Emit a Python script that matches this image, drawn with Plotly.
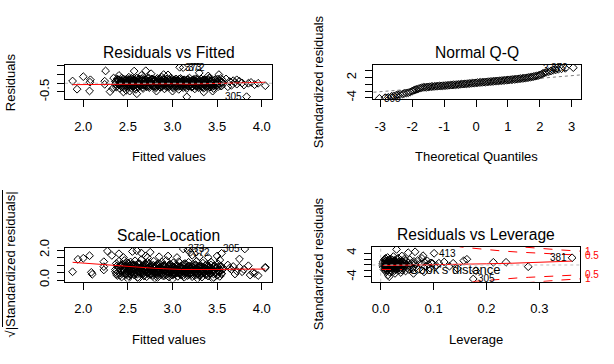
import plotly.graph_objects as go

W, H = 614, 364

# ---------------- Panel 1: Residuals vs Fitted ----------------
rf_fitted_sparse = [1.88, 1.93, 2.00, 2.07, 2.075, 2.08, 2.25, 2.24, 2.24, 2.30, 2.33, 2.34,
                    2.57, 2.70, 2.76, 2.60, 2.52, 2.45, 2.90, 3.00, 3.16, 3.08, 3.12, 3.30,
                    3.52, 3.45, 3.64, 3.68, 3.70, 3.72, 3.75, 3.78, 3.80, 3.72, 3.66, 3.85,
                    3.88, 3.92, 3.83, 4.04, 3.96, 3.60, 3.62, 2.40, 2.48, 2.65, 2.82, 2.95,
                    3.35, 3.40]
rf_resid_sparse = [0.13, -0.34, 0.38, -0.44, 0.06, 0.20, 0.71, 0.12, -0.06, -0.48, -0.30, 0.30,
                   0.70, 0.72, 0.55, -0.60, -0.45, -0.50, 0.50, -0.45, -0.78, 0.92, 0.90, 0.60,
                   0.50, -0.45, 0.10, 0.15, 0.05, -0.05, 0.12, 0.02, -0.10, 0.20, -0.12, 0.00,
                   0.05, -0.08, -0.77, -0.14, 0.00, 0.25, -0.20, 0.45, -0.40, 0.45, -0.45, 0.48,
                   -0.50, 0.42]
cloud_fitted = [2.36, 2.37, 2.38, 2.39, 2.40, 2.41, 2.42, 2.43, 2.44, 2.45,
                2.46, 2.47, 2.48, 2.49, 2.50, 2.51, 2.52, 2.53, 2.54, 2.55,
                2.56, 2.57, 2.58, 2.59, 2.60, 2.61, 2.62, 2.63, 2.64, 2.65,
                2.66, 2.67, 2.68, 2.69, 2.70, 2.71, 2.72, 2.73, 2.74, 2.75,
                2.76, 2.77, 2.78, 2.79, 2.80, 2.81, 2.82, 2.83, 2.84, 2.85,
                2.86, 2.87, 2.88, 2.89, 2.90, 2.91, 2.92, 2.93, 2.94, 2.95,
                2.96, 2.97, 2.98, 2.99, 3.00, 3.01, 3.02, 3.03, 3.04, 3.05,
                3.06, 3.07, 3.08, 3.09, 3.10, 3.11, 3.12, 3.13, 3.14, 3.15,
                3.16, 3.17, 3.18, 3.19, 3.20, 3.21, 3.22, 3.23, 3.24, 3.25,
                3.26, 3.27, 3.28, 3.29, 3.30, 3.31, 3.32, 3.33, 3.34, 3.35,
                3.36, 3.37, 3.38, 3.39, 3.40, 3.41, 3.42, 3.43, 3.44, 3.45,
                3.46, 3.47, 3.48, 3.49, 3.50, 3.51, 3.52, 3.53, 3.54, 3.55, 3.56]
cloud_resid = [0.10, -0.22, 0.25, -0.05, 0.18, -0.30, 0.05, 0.30, -0.12, 0.15,
               -0.25, 0.02, 0.22, -0.18, 0.10, 0.35, -0.08, 0.18, -0.28, 0.05,
               0.25, -0.15, 0.12, -0.35, 0.30, 0.00, -0.20, 0.20, 0.08, -0.10,
               0.28, -0.30, 0.15, -0.05, 0.22, -0.18, 0.05, 0.32, -0.25, 0.12,
               -0.02, 0.25, -0.15, 0.08, 0.18, -0.28, 0.02, 0.28, -0.10, 0.15,
               -0.22, 0.05, 0.35, -0.05, 0.20, -0.32, 0.10, -0.15, 0.25, 0.00,
               -0.20, 0.15, 0.30, -0.10, 0.08, -0.28, 0.18, -0.02, 0.25, -0.18,
               0.05, -0.35, 0.12, 0.28, -0.12, 0.02, -0.25, 0.20, -0.05, 0.15,
               -0.30, 0.08, -0.15, 0.30, -0.08, 0.12, -0.22, 0.02, 0.22, -0.32,
               0.05, -0.12, 0.18, -0.25, 0.10, -0.02, 0.25, -0.18, 0.05, -0.28,
               0.15, -0.08, 0.20, -0.15, 0.02, 0.30, -0.22, 0.10, -0.05, 0.18,
               -0.30, 0.05, 0.22, -0.12, 0.08, -0.20, 0.15, -0.02, 0.28, -0.15, 0.05]
cloud3_resid = [-0.05, 0.12, -0.15, 0.20, 0.02, -0.10, 0.15, -0.20, 0.08, 0.25,
                -0.02, 0.18, -0.12, 0.05, 0.22, -0.08, 0.10, -0.18, 0.28, 0.00,
                -0.14, 0.16, 0.04, -0.22, 0.12, 0.20, -0.06, 0.08, -0.16, 0.24,
                0.02, -0.10, 0.14, -0.04, 0.18, -0.20, 0.06, 0.26, -0.12, 0.10,
                -0.02, 0.20, -0.08, 0.14, -0.18, 0.04, 0.22, -0.14, 0.08, 0.16,
                -0.06, 0.12, -0.20, 0.02, 0.26, -0.10, 0.18, -0.04, 0.10, -0.16,
                0.22, 0.00, -0.12, 0.14, -0.22, 0.06, 0.20, -0.08, 0.16, -0.02,
                0.10, -0.18, 0.24, 0.04, -0.14, 0.12, -0.06, 0.18, 0.00, -0.20,
                0.08, 0.22, -0.10, 0.14, -0.02, 0.06, -0.16, 0.20, -0.08, 0.12,
                0.26, -0.04, 0.02, -0.18, 0.16, -0.12, 0.10, 0.04, -0.22, 0.18,
                -0.06, 0.14, -0.14, 0.08, 0.22, -0.02, -0.10, 0.16, 0.00, -0.18,
                0.12, -0.08, 0.20, 0.04, -0.12, 0.24, -0.04, 0.10, -0.16, 0.06, 0.18]
cloud2_fitted = [2.455, 2.465, 2.475, 2.485, 2.495, 2.505, 2.515, 2.525, 2.535, 2.545,
                 2.555, 2.565, 2.575, 2.585, 2.595, 2.605, 2.615, 2.625, 2.635, 2.645,
                 2.655, 2.665, 2.675, 2.685, 2.695, 2.705, 2.715, 2.725, 2.735, 2.745,
                 2.755, 2.765, 2.775, 2.785, 2.795, 2.805, 2.815, 2.825, 2.835, 2.845,
                 2.855, 2.865, 2.875, 2.885, 2.895, 2.905, 2.915, 2.925, 2.935, 2.945,
                 2.955, 2.965, 2.975, 2.985, 2.995, 3.005, 3.015, 3.025, 3.035, 3.045,
                 3.055, 3.065, 3.075, 3.085, 3.095, 3.105, 3.115, 3.125, 3.135, 3.145,
                 3.155, 3.165, 3.175, 3.185, 3.195, 3.205, 3.215, 3.225, 3.235, 3.245,
                 3.255, 3.265, 3.275, 3.285, 3.295, 3.305, 3.315, 3.325, 3.335, 3.345,
                 3.355, 3.365, 3.375, 3.385, 3.395, 3.405, 3.415, 3.425, 3.435, 3.445]
cloud2_resid = [0.05, -0.12, 0.18, -0.02, 0.10, -0.20, 0.22, 0.00, -0.08, 0.15,
                -0.15, 0.08, 0.20, -0.05, 0.12, -0.18, 0.02, 0.25, -0.10, 0.06,
                0.16, -0.22, 0.10, -0.02, 0.20, -0.12, 0.04, 0.14, -0.18, 0.08,
                -0.06, 0.22, 0.00, -0.14, 0.18, 0.05, -0.20, 0.12, -0.04, 0.24,
                0.02, -0.10, 0.16, -0.16, 0.08, 0.20, -0.06, 0.10, -0.22, 0.04,
                0.18, -0.08, 0.14, -0.02, 0.22, -0.14, 0.06, 0.12, -0.18, 0.00,
                0.16, -0.10, 0.24, -0.04, 0.08, -0.20, 0.18, 0.02, -0.12, 0.14,
                -0.06, 0.20, -0.16, 0.06, 0.10, -0.02, -0.22, 0.16, 0.04, -0.10,
                0.12, -0.18, 0.22, 0.00, -0.08, 0.18, -0.14, 0.06, 0.14, -0.04,
                0.20, -0.12, 0.02, 0.10, -0.20, 0.16, -0.06, 0.08, -0.16, 0.04]
rf_smooth_x = [1.88, 2.30, 2.60, 3.00, 3.20, 3.50, 3.60, 4.04]
rf_smooth_y = [-0.08, -0.06, -0.02, -0.03, -0.05, -0.02, 0.03, 0.06]
rf_labels = [("373", 3.08, 0.92, "left"), ("372", 3.12, 0.90, "left"), ("305", 3.83, -0.77, "right")]

# ---------------- Panel 2: Normal Q-Q ----------------
qq_theoretical = [-3.03, -2.85, -2.75, -2.65, -2.58, -2.50, -2.45, -2.38, -2.30, -2.25,
                  -2.18, -2.12, -2.06, -2.00, -1.95, -1.90, -1.86, -1.80, -1.75, -1.70, -1.65,
                  -1.60, -1.55, -1.50, -1.45, -1.40, -1.35, -1.30, -1.25, -1.20, -1.15,
                  -1.10, -1.05, -1.00, -0.95, -0.90, -0.85, -0.80, -0.75, -0.70, -0.65,
                  -0.60, -0.55, -0.50, -0.45, -0.40, -0.35, -0.30, -0.25, -0.20, -0.15,
                  -0.10, -0.05, 0.00, 0.05, 0.10, 0.15, 0.20, 0.25, 0.30, 0.35,
                  0.40, 0.45, 0.50, 0.55, 0.60, 0.65, 0.70, 0.75, 0.80, 0.85,
                  0.90, 0.95, 1.00, 1.05, 1.10, 1.15, 1.20, 1.25, 1.30, 1.35,
                  1.40, 1.45, 1.50, 1.55, 1.60, 1.65, 1.70, 1.75, 1.80, 1.85, 1.90, 1.95,
                  2.00, 2.05, 2.10, 2.15, 2.20, 2.28, 2.35, 2.42, 2.50, 2.58, 2.68, 2.80, 3.05]
qq_std_resid = [-4.20, -4.00, -3.90, -3.60, -3.45, -3.25, -3.10, -3.00, -2.90, -2.75,
                -2.60, -2.50, -2.30, -2.00, -1.80, -1.60, -1.50, -1.30, -1.15, -1.00, -0.90,
                -0.88, -0.83, -0.78, -0.73, -0.69, -0.65, -0.61, -0.57, -0.53, -0.50,
                -0.47, -0.43, -0.40, -0.36, -0.32, -0.28, -0.24, -0.20, -0.16, -0.12,
                -0.08, -0.04, 0.00, 0.05, 0.09, 0.13, 0.17, 0.22, 0.26, 0.30,
                0.35, 0.40, 0.45, 0.50, 0.54, 0.58, 0.62, 0.66, 0.70, 0.74,
                0.79, 0.83, 0.87, 0.91, 0.96, 1.00, 1.04, 1.08, 1.12, 1.17,
                1.21, 1.26, 1.30, 1.35, 1.40, 1.45, 1.50, 1.55, 1.60, 1.66,
                1.72, 1.78, 1.84, 1.90, 1.97, 2.05, 2.13, 2.22, 2.32, 2.42, 2.52, 2.62,
                2.80, 3.00, 3.25, 3.45, 3.60, 3.80, 4.00, 4.20, 4.35, 4.50, 4.65, 4.80, 5.00]
qq_line_x = [-3.4, 3.4]
qq_line_y = [-2.52, 2.92]
qq_labels = [("305", -3.03, -4.20, "left"), ("373", 2.80, 4.80, "right"), ("372", 3.05, 5.00, "right")]

# ---------------- Panel 3: Scale-Location ----------------
sl_fitted_sparse = [1.88, 1.94, 2.00, 2.07, 2.09, 2.10, 2.23, 2.23, 2.23, 2.27, 2.32,
                    2.40, 2.45, 2.55, 2.60, 2.65, 2.70, 2.75, 2.72, 2.85, 2.95,
                    3.05, 3.12, 3.17, 3.20, 3.22, 3.30, 3.40, 3.50, 3.55, 3.53,
                    3.62, 3.81, 3.75, 3.64, 3.68, 3.72, 3.75, 3.78, 3.80, 3.85,
                    3.87, 3.90, 3.92, 3.96, 4.04, 4.04, 3.70, 3.66,
                    2.50, 2.62, 2.80, 3.00, 3.28, 3.45]
sl_sqrt_sparse = [0.55, 1.38, 1.45, 1.62, 0.51, 0.38, 1.22, 0.89, 0.67, 1.93, 1.64,
                  1.75, 1.50, 1.90, 1.95, 1.80, 1.60, 1.85, 1.50, 1.55, 1.60,
                  1.50, 2.07, 2.00, 1.85, 1.65, 1.55, 1.50, 1.60, 1.78, 1.33,
                  1.00, 2.07, 1.40, 0.80, 0.90, 0.60, 0.85, 0.55, 0.70, 0.95,
                  0.33, 0.50, 0.45, 0.30, 0.85, 0.80, 0.40, 0.70,
                  0.08, 0.10, 0.12, 0.06, 0.10, 0.09]
cloud_sqrt = [0.55, 1.10, 0.30, 0.85, 1.25, 0.45, 0.95, 0.20, 1.05, 0.70,
              1.30, 0.40, 0.90, 0.60, 1.15, 0.25, 0.80, 1.20, 0.50, 0.75,
              1.00, 0.35, 1.28, 0.65, 0.88, 0.18, 1.12, 0.58, 0.78, 1.35,
              0.42, 0.95, 0.28, 1.08, 0.68, 0.22, 1.18, 0.52, 0.85, 0.38,
              1.02, 0.62, 0.30, 1.25, 0.72, 0.48, 0.92, 0.16, 1.10, 0.55,
              0.82, 0.35, 1.20, 0.66, 0.26, 0.98, 0.45, 1.30, 0.60, 0.78,
              0.20, 1.05, 0.50, 0.88, 0.32, 1.15, 0.70, 0.40, 0.95, 0.58,
              0.24, 1.22, 0.48, 0.80, 0.36, 1.00, 0.62, 0.18, 1.10, 0.52,
              0.86, 0.30, 1.18, 0.68, 0.42, 0.92, 0.22, 1.05, 0.56, 0.76,
              0.34, 1.25, 0.46, 0.84, 0.28, 0.98, 0.64, 0.20, 1.12, 0.50,
              0.80, 0.38, 1.02, 0.60, 0.26, 0.90, 0.44, 1.20, 0.54, 0.72,
              0.18, 0.96, 0.48, 0.82, 0.32, 1.08, 0.58, 0.24, 0.88, 0.40, 0.70]
cloud2_sqrt = [0.60, 0.95, 0.40, 0.80, 0.55, 1.05, 0.70, 0.35, 0.90, 0.50,
               0.75, 1.00, 0.45, 0.65, 0.85, 0.38, 1.08, 0.58, 0.72, 0.48,
               0.92, 0.62, 0.42, 0.82, 0.68, 1.02, 0.52, 0.78, 0.36, 0.88,
               0.60, 0.74, 0.46, 0.98, 0.56, 0.84, 0.40, 0.70, 1.04, 0.50,
               0.64, 0.86, 0.44, 0.76, 0.94, 0.54, 0.66, 0.32, 0.80, 0.58,
               0.90, 0.48, 0.72, 1.00, 0.62, 0.38, 0.84, 0.56, 0.74, 0.96,
               0.46, 0.68, 0.88, 0.52, 0.34, 0.78, 0.60, 1.06, 0.42, 0.70,
               0.82, 0.54, 0.64, 0.92, 0.44, 0.76, 0.58, 0.86, 0.36, 0.66,
               0.98, 0.50, 0.72, 0.40, 0.80, 0.62, 0.90, 0.48, 0.68, 0.56,
               0.84, 0.38, 0.74, 0.60, 0.94, 0.52, 0.70, 0.44, 0.78, 0.64]
cloud3_sqrt = [0.70, 0.40, 0.95, 0.55, 0.80, 0.30, 1.00, 0.62, 0.45, 0.88,
               0.66, 1.10, 0.36, 0.76, 0.52, 0.92, 0.42, 0.72, 1.04, 0.58,
               0.84, 0.34, 0.68, 0.98, 0.48, 0.78, 0.60, 1.08, 0.40, 0.86,
               0.54, 0.74, 0.30, 0.94, 0.64, 0.82, 0.46, 1.02, 0.56, 0.70,
               0.38, 0.90, 0.62, 0.80, 0.44, 0.96, 0.58, 0.32, 0.76, 0.66,
               1.06, 0.50, 0.72, 0.86, 0.36, 0.64, 0.92, 0.54, 0.78, 0.42,
               1.00, 0.60, 0.70, 0.34, 0.88, 0.52, 0.82, 0.46, 0.74, 0.98,
               0.56, 0.66, 0.40, 0.90, 0.62, 0.78, 0.30, 0.84, 0.50, 1.04,
               0.68, 0.44, 0.94, 0.58, 0.72, 0.36, 0.86, 0.64, 0.80, 0.48,
               1.02, 0.54, 0.70, 0.38, 0.92, 0.60, 0.76, 0.42, 0.88, 0.66,
               0.50, 0.96, 0.34, 0.74, 0.58, 0.84, 0.46, 1.00, 0.62, 0.70,
               0.40, 0.90, 0.56, 0.78, 0.32, 0.86, 0.52, 0.68, 0.94, 0.44, 0.72]
sl_smooth_x = [1.88, 2.20, 2.50, 2.80, 3.10, 3.30, 3.50, 3.70, 4.04]
sl_smooth_y = [1.18, 1.03, 0.90, 0.78, 0.70, 0.68, 0.70, 0.72, 0.73]
sl_labels = [("373", 3.12, 2.07, "left"), ("372", 3.17, 1.85, "left"), ("305", 3.81, 2.07, "right")]

# ---------------- Panel 4: Residuals vs Leverage ----------------
lev_values = [0.004, 0.005, 0.005, 0.006, 0.006, 0.007, 0.007, 0.008, 0.008, 0.009, 0.009, 0.010,
              0.010, 0.011, 0.011, 0.012, 0.012, 0.013, 0.013, 0.014, 0.014, 0.015, 0.015, 0.016,
              0.016, 0.017, 0.017, 0.018, 0.018, 0.019, 0.019, 0.020, 0.020, 0.021, 0.021, 0.022,
              0.022, 0.023, 0.023, 0.024, 0.024, 0.025, 0.025, 0.026, 0.026, 0.027, 0.027, 0.028,
              0.028, 0.029, 0.030, 0.031, 0.031, 0.032, 0.033, 0.033, 0.034, 0.035, 0.035, 0.036,
              0.037, 0.038, 0.038, 0.039, 0.040, 0.041, 0.042, 0.043, 0.044, 0.045, 0.046, 0.047,
              0.048, 0.049, 0.050, 0.052, 0.053, 0.055, 0.056, 0.058, 0.060, 0.063, 0.065, 0.067,
              0.070, 0.072, 0.075, 0.083, 0.085, 0.088, 0.090, 0.093, 0.095, 0.098, 0.105, 0.110,
              0.120, 0.130,
              0.006, 0.008, 0.010, 0.012, 0.014, 0.016, 0.018, 0.020, 0.022, 0.024, 0.026, 0.028,
              0.030, 0.032, 0.034, 0.036, 0.038, 0.040, 0.044, 0.048, 0.004, 0.005, 0.007, 0.009,
              0.011, 0.013, 0.015, 0.017, 0.019, 0.021, 0.023, 0.025, 0.027, 0.029, 0.031, 0.033,
              0.035, 0.037, 0.039, 0.042,
              0.030, 0.040, 0.052, 0.062, 0.065, 0.078, 0.080, 0.082, 0.101, 0.137, 0.145, 0.157,
              0.163, 0.180, 0.175, 0.213, 0.237, 0.279, 0.362, 0.016]
lev_std_resid = [0.5, -0.8, 1.2, -1.5, 0.2, 1.8, -0.3, 0.9, -1.1, 2.2, -2.0, 0.0,
                 1.4, -0.6, 0.7, -1.8, 1.0, -0.2, 2.5, -3.3, 0.4, -1.3, 1.6, -0.5,
                 0.8, -2.4, 0.1, 1.3, -0.9, 2.0, -1.6, 0.5, -0.1, 1.1, -2.2, 0.3,
                 1.7, -0.7, -1.2, 0.9, 2.8, -0.4, 0.6, -1.9, 1.5, 0.0, -2.8, 1.0,
                 -0.8, 0.4, -1.4, 1.9, -0.2, 0.7, -1.0, 2.3, 0.2, -1.7, 1.2, -0.5,
                 0.8, -2.5, 1.6, 0.1, -1.7, -0.6, 1.0, -1.3, 0.5, 2.0, -0.3, -2.0,
                 1.3, 0.2, -0.9, 0.8, -1.5, 1.8, -0.4, 0.6, -1.1, 1.2, 0.3, -0.7,
                 1.5, -1.4, 0.4, 0.9, -0.5, 1.4, 0.2, -1.0, 0.7, 0.5, -0.2, 0.6,
                 1.0, -0.4,
                 0.6, -0.4, 0.3, -0.9, 1.1, -0.1, 0.5, -0.7, 1.0, -0.3, 0.2, -1.2,
                 0.8, -0.5, 1.0, -0.9, 0.3, 0.9, -0.8, 0.0, -0.2, 0.1, 1.0, -0.9,
                 0.2, -0.6, 0.3, -1.0, 0.7, -0.3, 0.4, -1.1, 1.3, -0.4, 0.5, -0.3,
                 0.6, -1.2, 1.1, -0.1,
                 5.2, 3.0, 4.1, -2.8, 4.4, 2.2, 3.1, -2.3, 3.9, 0.57, -1.2, 1.43,
                 1.9, -1.9, -4.67, 0.9, 0.9, -0.57, 2.4, -3.9]
lev_smooth_x = [0.004, 0.05, 0.10, 0.15, 0.20, 0.25, 0.30, 0.362]
lev_smooth_y = [-0.2, -0.1, 0.05, 0.2, 0.4, 0.6, 0.9, 1.3]
cook_h = [0.14, 0.15, 0.16, 0.18, 0.20, 0.23, 0.26, 0.28, 0.30, 0.34, 0.377]
cook_half = [6.60, 6.07, 5.84, 5.44, 5.10, 4.67, 4.30, 4.11, 3.89, 3.55, 3.28]
cook_one_h = [0.24, 0.26, 0.28, 0.30, 0.34, 0.377]
cook_one = [6.40, 6.08, 5.78, 5.51, 5.02, 4.63]
cook_label_text = ["0.5", "1", "0.5", "1"]
cook_label_y = [3.28, 4.63, -3.28, -4.63]
lev_labels = [("413", 0.101, 3.9, "left"), ("381", 0.362, 2.4, "right"), ("305", 0.175, -4.67, "left")]

# ---------------- figure ----------------
FONT = "Liberation Sans, Arial, sans-serif"
RED = "#FF0000"


def px_x(x):
    return x / W


def px_y(y):
    return 1 - y / H


boxes = {
    1: (65, 272, 65, 99.3),
    2: (372.5, 580.5, 65, 99.3),
    3: (65, 272, 247.5, 281.5),
    4: (372.3, 580, 246.7, 281.7),
}

fig = go.Figure()
marker = dict(symbol="diamond-open", size=6, color="black", line=dict(width=1, color="black"))


def pts(x, y, n):
    fig.add_trace(go.Scatter(x=x, y=y, mode="markers", marker=marker, xaxis=f"x{n}", yaxis=f"y{n}",
                             showlegend=False, hoverinfo="skip"))


def line(x, y, n, color=RED, dash="solid", width=1):
    fig.add_trace(go.Scatter(x=x, y=y, mode="lines", line=dict(color=color, dash=dash, width=width),
                             xaxis=f"x{n}", yaxis=f"y{n}", showlegend=False, hoverinfo="skip"))


# panel 1
fig.add_shape(type="line", xref="x domain", yref="y", x0=0, x1=1, y0=0, y1=0,
              line=dict(color="#BEBEBE", dash="dot", width=1))
pts(rf_fitted_sparse + cloud_fitted + cloud2_fitted + cloud_fitted,
    rf_resid_sparse + cloud_resid + cloud2_resid + cloud3_resid, 1)
line(rf_smooth_x, rf_smooth_y, 1)

# panel 2
line(qq_line_x, qq_line_y, 2, color="#7F7F7F", dash="dot")
pts(qq_theoretical, qq_std_resid, 2)

# panel 3
pts(sl_fitted_sparse + cloud_fitted + cloud2_fitted + cloud_fitted,
    sl_sqrt_sparse + cloud_sqrt + cloud2_sqrt + cloud3_sqrt, 3)
line(sl_smooth_x, sl_smooth_y, 3)

# panel 4
fig.add_shape(type="line", xref="x4 domain", yref="y4", x0=0, x1=1, y0=0, y1=0,
              line=dict(color="#BEBEBE", dash="dot", width=1))
fig.add_shape(type="line", xref="x4", yref="y4 domain", x0=0, x1=0, y0=0, y1=1,
              line=dict(color="#BEBEBE", dash="dot", width=1))
pts(lev_values, lev_std_resid, 4)
line(lev_smooth_x, lev_smooth_y, 4)
line(cook_h, cook_half, 4, dash="dash")
line(cook_h, [-v for v in cook_half], 4, dash="dash")
line(cook_one_h, cook_one, 4, dash="dash")
line(cook_one_h, [-v for v in cook_one], 4, dash="dash")

annotations = []


def label(text, x, y, n, side):
    annotations.append(dict(text=text, x=x, y=y, xref=f"x{n}", yref=f"y{n}", showarrow=False,
                            xanchor=side, yanchor="middle", xshift=3 if side == "left" else -3,
                            font=dict(family=FONT, size=10, color="black")))


for t, x, y, s in rf_labels:
    label(t, x, y, 1, s)
for t, x, y, s in qq_labels:
    label(t, x, y, 2, s)
for t, x, y, s in sl_labels:
    label(t, x, y, 3, s)
for t, x, y, s in lev_labels:
    label(t, x, y, 4, s)

for t, y in zip(cook_label_text, cook_label_y):
    annotations.append(dict(text=t, x=1, y=y, xref="x4 domain", yref="y4", showarrow=False,
                            xanchor="left", yanchor="middle", xshift=3,
                            font=dict(family=FONT, size=10, color=RED)))

# Cook's distance legend
fig.add_shape(type="line", xref="paper", yref="paper", x0=px_x(382), x1=px_x(402),
              y0=px_y(269.5), y1=px_y(269.5), line=dict(color=RED, dash="dash", width=1))
annotations.append(dict(text="Cook's distance", x=px_x(407), y=px_y(269.5), xref="paper", yref="paper",
                        showarrow=False, xanchor="left", yanchor="middle",
                        font=dict(family=FONT, size=13, color="black")))


def text_px(t, x, y, size=13, angle=0):
    annotations.append(dict(text=t, x=px_x(x), y=px_y(y), xref="paper", yref="paper", showarrow=False,
                            xanchor="center", yanchor="middle", textangle=angle,
                            font=dict(family=FONT, size=size, color="black")))


titles = {1: "Residuals vs Fitted", 2: "Normal Q-Q", 3: "Scale-Location", 4: "Residuals vs Leverage"}
xtitles = {1: "Fitted values", 2: "Theoretical Quantiles", 3: "Fitted values", 4: "Leverage"}
ytitles = {1: "Residuals", 2: "Standardized residuals", 3: "√|Standardized residuals|",
           4: "Standardized residuals"}
ytitle_x = {1: 10, 2: 318, 3: 10, 4: 318}
for n, (l, r, t, b) in boxes.items():
    cx = (l + r) / 2
    cy = (t + b) / 2
    text_px(titles[n], cx, t - 12.5, size=15.6)
    text_px(xtitles[n], cx, b + 57.5)
    text_px(ytitles[n], ytitle_x[n], cy, angle=-90)

# overbar of the square root in panel 3 label
fig.add_shape(type="line", xref="paper", yref="paper", x0=px_x(2.5), x1=px_x(2.5),
              y0=px_y(190), y1=px_y(327), line=dict(color="black", width=1))

axis_common = dict(showgrid=False, zeroline=False, showline=True, mirror=True, linecolor="black",
                   linewidth=1, ticks="outside", ticklen=7, tickwidth=1, tickcolor="black",
                   automargin=False,
                   tickfont=dict(family=FONT, size=13, color="black"))

x_ticks = {
    1: ([2.0, 2.5, 3.0, 3.5, 4.0], ["2.0", "2.5", "3.0", "3.5", "4.0"], [1.795, 4.115]),
    2: ([-3, -2, -1, 0, 1, 2, 3], ["-3", "-2", "-1", "0", "1", "2", "3"], [-3.245, 3.276]),
    3: ([2.0, 2.5, 3.0, 3.5, 4.0], ["2.0", "2.5", "3.0", "3.5", "4.0"], [1.795, 4.115]),
    4: ([0.0, 0.1, 0.2, 0.3], ["0.0", "0.1", "0.2", "0.3"], [-0.0159, 0.3769]),
}
y_ticks = {
    1: ([-0.5, 0.0, 0.5, 1.0], ["-0.5", "", "", ""], [-0.92, 1.05]),
    2: ([-4, -2, 0, 2, 4], ["-4", "", "", "2", ""], [-4.48, 5.79]),
    3: ([0.0, 0.5, 1.0, 1.5, 2.0], ["0.0", "", "", "", "2.0"], [-0.10, 2.167]),
    4: ([-4, -2, 0, 2, 4], ["-4", "", "", "", "4"], [-5.57, 6.10]),
}

layout = dict(width=W, height=H, margin=dict(l=0, r=0, t=0, b=0, autoexpand=False),
              paper_bgcolor="white", plot_bgcolor="white", showlegend=False,
              annotations=annotations, template="none")
for n, (l, r, t, b) in boxes.items():
    xv, xt, xr = x_ticks[n]
    yv, yt, yr = y_ticks[n]
    layout[f"xaxis{n}"] = dict(axis_common, domain=[px_x(l), px_x(r)], range=xr, tickvals=xv,
                               ticktext=xt, anchor=f"y{n}", ticklabelstandoff=8)
    layout[f"yaxis{n}"] = dict(axis_common, domain=[px_y(b), px_y(t)], range=yr, tickvals=yv,
                               ticktext=yt, anchor=f"x{n}", tickangle=-90, ticklabelstandoff=3)

fig.update_layout(**layout)
fig.write_html("out.html", config={"displayModeBar": False, "staticPlot": True},
               post_script="document.body.style.margin='0';document.body.style.overflow='hidden';")
